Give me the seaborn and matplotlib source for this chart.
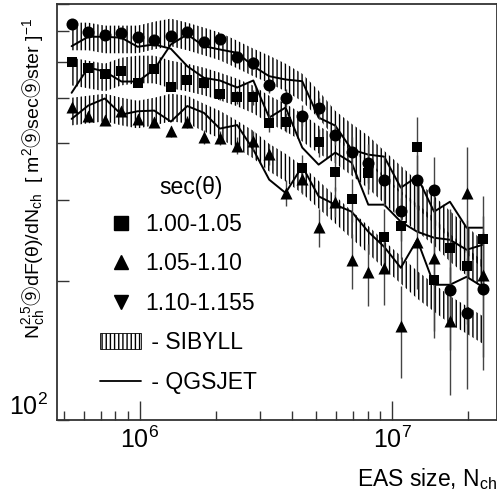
import numpy as np
import seaborn as sns
import matplotlib
matplotlib.use("Agg")
import matplotlib.pyplot as plt
from matplotlib.lines import Line2D
from matplotlib.patches import Patch
from matplotlib.ticker import LogLocator, NullFormatter

# EAS size bin centres, in units of 1e6 particles
n_ch_mil = [0.536, 0.624, 0.726, 0.845, 0.980, 1.140, 1.327, 1.542, 1.795, 2.075,
            2.432, 2.818, 3.258, 3.784, 4.406, 5.117, 5.957, 6.918, 8.054, 9.311,
            10.84, 12.59, 14.69, 16.98, 19.77, 22.91]

# measured points (three zenith bins), value and error
flux_circ = [724.9, 696.5, 684.7, 693.1, 679.2, 667.7, 681.2, 695.0, 662.4, 670.1,
             614.4, 596.3, 533.0, 500.6, 458.0, 476.0, 416.5, 381.2, 361.4, 332.5,
             284.7, 331.4, 316.2, 191.8, 170.6, 192.4]
err_circ = [10, 10, 10, 10, 11, 11, 12, 12, 13, 14, 16, 18, 20, 22, 24, 25, 21, 30,
            35, 41, 40, 45, 57, 50, 54, 64]

flux_sq = [599.4, 581.6, 565.2, 571.7, 539.5, 576.7, 528.8, 548.5, 539.5, 510.2,
           501.9, 501.9, 442.2, 442.9, 351.7, 400.7, 344.9, 301.2, 343.9, 249.6,
           264.1, 392.2, 200.9, 236.6, 216.2, 247.1]
err_sq = [10, 10, 10, 10, 11, 11, 12, 12, 13, 14, 16, 18, 20, 22, 25, 28, 30, 32,
          35, 38, 40, 63, 45, 50, 55, 60]

flux_tri = [478.4, 456.4, 449.0, 467.9, 451.2, 443.7, 423.3, 443.7, 411.3, 409.7,
            394.2, 404.1, 377.8, 311.1, 334.2, 262.4, 297.7, 222.8, 209.1, 213.7,
            159.6, 242.9, 224.7, 164.2, 311.1, 206.7]
err_tri = [10, 10, 10, 11, 11, 12, 12, 13, 14, 15, 17, 19, 20, 20, 24, 25, 22, 30,
           32, 36, 36, 50, 74, 51, 80, 70]

# SIBYLL bands (centre values) and their half width in decades
sib_top = [680.1, 680.1, 670.1, 670.1, 670.1, 683.5, 693.9, 680.1, 663.4, 647.1,
           621.5, 597.3, 576.7, 554.0, 527.0, 484.0, 437.8, 410.2, 386.4, 358.4,
           332.5, 308.5, 286.1, 265.4, 246.2, 228.4]
sib_mid = [570.7, 562.3, 554.0, 570.7, 576.7, 576.7, 562.3, 554.0, 543.0, 529.7,
           514.0, 496.3, 472.0, 453.4, 431.3, 406.2, 386.4, 363.8, 340.9, 316.2,
           293.4, 274.9, 256.3, 236.6, 220.5, 206.7]
sib_low = [467.3, 472.0, 476.8, 467.3, 460.3, 467.3, 476.8, 472.0, 453.4, 437.8,
           416.5, 396.2, 371.2, 353.1, 332.5, 308.5, 286.1, 265.4, 246.2, 228.4,
           211.9, 196.6, 184.2, 173.4, 165.0, 156.9]
sib_halfwidth_dex = 0.03

# QGSJET curves
qgs_a = [647.9, 679.2, 679.2, 675.8, 646.0, 653.5, 639.6, 586.2, 553.1, 545.8,
         527.0, 545.8, 453.4, 476.8, 390.3, 358.4, 380.6, 362.0, 293.4, 293.4,
         269.4, 256.3, 248.7, 246.2, 234.2, 240.1]
qgs_b = [513.2, 582.5, 570.7, 543.0, 543.0, 576.7, 653.5, 687.0, 647.9, 637.3,
         626.8, 586.2, 557.6, 548.5, 543.8, 453.4, 435.6, 386.4, 376.8, 373.1,
         319.4, 337.5, 283.3, 297.7, 261.5, 261.5]
qgs_c = [450.5, 481.6, 498.8, 460.3, 468.0, 469.6, 444.4, 480.4, 464.3, 429.2,
         436.8, 386.4, 332.5, 311.1, 355.4, 305.9, 293.4, 283.3, 256.3, 237.7,
         214.0, 246.2, 196.6, 196.6, 204.6, 194.6]

legend_labels = ["1.00-1.05", "1.05-1.10", "1.10-1.155", " - SIBYLL", " - QGSJET"]

sns.set_style("ticks")
plt.rcParams['font.family'] = ['Liberation Sans', 'DejaVu Sans']
plt.rcParams['mathtext.fontset'] = 'custom'
plt.rcParams['mathtext.rm'] = 'Liberation Sans'
plt.rcParams['mathtext.sf'] = 'Noto Sans CJK JP'
plt.rcParams['mathtext.default'] = 'regular'
plt.rcParams['hatch.linewidth'] = 1.0
for k in ['text.color', 'axes.labelcolor', 'xtick.labelcolor', 'ytick.labelcolor']:
    plt.rcParams[k] = 'black'

n_ch = np.array(n_ch_mil) * 1e6

fig = plt.figure(figsize=(4.97, 4.95), dpi=100)
ax = fig.add_axes([57 / 497, 1 - 420 / 495, 440 / 497, 416 / 495])
ax.set_xscale('log')
ax.set_yscale('log')

# hatched SIBYLL bands
w = 10 ** sib_halfwidth_dex
for c in [sib_top, sib_mid, sib_low]:
    c = np.array(c)
    ax.fill_between(n_ch, c / w, c * w, facecolor='none', edgecolor='black',
                    hatch='||||', linewidth=0, zorder=1)

# QGSJET lines
for q in [qgs_a, qgs_b, qgs_c]:
    sns.lineplot(x=n_ch, y=q, color='black', lw=1.4, ax=ax, zorder=2)

# data points with error bars
for f, e, m, s in [(flux_circ, err_circ, 'o', 75), (flux_sq, err_sq, 's', 62),
                   (flux_tri, err_tri, '^', 75)]:
    ax.errorbar(n_ch, f, yerr=e, fmt='none', ecolor='#444444', elinewidth=1,
                capsize=0, zorder=3)
    sns.scatterplot(x=n_ch, y=f, marker=m, color='black', s=s, linewidth=0,
                    ax=ax, zorder=4)

ax.set_xlim(4.69e5, 2.61e7)
ax.set_ylim(100, 800)

ax.xaxis.set_major_locator(LogLocator(base=10))
ax.xaxis.set_minor_locator(LogLocator(base=10, subs=np.arange(2, 10)))
ax.yaxis.set_major_locator(LogLocator(base=10))
ax.yaxis.set_minor_locator(LogLocator(base=10, subs=np.arange(2, 10)))
ax.xaxis.set_minor_formatter(NullFormatter())
ax.yaxis.set_minor_formatter(NullFormatter())

ax.tick_params(which='both', direction='in', top=False, right=False, color='#333333')
ax.tick_params(axis='x', which='major', length=13.5, width=1, pad=5, labelsize=18)
ax.tick_params(axis='x', which='minor', length=6.5, width=1)
ax.tick_params(axis='y', which='major', length=8.5, width=1, pad=6.5, labelsize=18)
ax.tick_params(axis='y', which='minor', length=8.5, width=1)
for t in ax.get_yticklabels():
    t.set_va('bottom')

for sp in ax.spines.values():
    sp.set_color('#333333')
    sp.set_linewidth(1.3)

ax.set_xlabel("EAS size, N$_{ch}$", fontsize=16.5, loc='right', labelpad=9)
ax.set_ylabel("N$_{ch}^{2.5}\\mathsf{⑨}$dF(θ)/dN$_{ch}$  [ m$^{2}\\mathsf{⑨}$sec$\\mathsf{⑨}$ster ]$^{-1}$",
              fontsize=14)
ax.yaxis.set_label_coords(-0.025, 0.58)

# legend
handles = [Line2D([], [], ls='none', marker='s', color='black', markersize=10),
           Line2D([], [], ls='none', marker='^', color='black', markersize=10),
           Line2D([], [], ls='none', marker='v', color='black', markersize=10),
           Patch(facecolor='none', edgecolor='black', hatch='||||', linewidth=0.6),
           Line2D([], [], color='black', lw=1.3)]
ax.legend(handles, legend_labels, loc='upper left', bbox_to_anchor=(0.098, 0.498),
          frameon=False, fontsize=16.5, handlelength=1.8, handletextpad=0.15,
          labelspacing=0.72, borderpad=0, borderaxespad=0)
ax.text(0.3045, 0.56, "sec(θ)", transform=ax.transAxes, fontsize=16.5,
        ha='center', va='center')

fig.savefig("out.png", dpi=100)
